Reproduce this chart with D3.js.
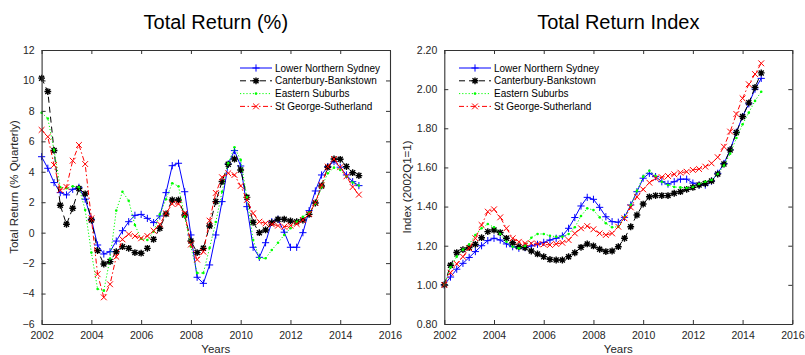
<!DOCTYPE html>
<html>
<head>
<meta charset="utf-8">
<script src="https://cdn.jsdelivr.net/npm/d3@7/dist/d3.min.js"></script>
<style>
  html, body { margin: 0; padding: 0; background: #fff; }
  svg { display: block; font-family: "Liberation Sans", Arial, Helvetica, sans-serif; }
</style>
</head>
<body>
<svg id="chart" width="805" height="355"></svg>
<script>
// Quarterly observations, 2002Q1 .. 2014Q4
const quarters = d3.range(52).map(i => 2002 + i * 0.25);

const regions = ["Lower Northern Sydney", "Canterbury-Bankstown", "Eastern Suburbs", "St George-Sutherland"];

// Quarterly total return (%)
const returnLNS = [4.99, 4.23, 3.29, 2.63, 2.48, 2.85, 2.98, 2.2, 0.88, -0.81,
  -1.40, -1.25, -0.55, 0.13, 0.72, 1.14, 1.20, 0.94, 0.66, 1.10,
  2.63, 4.40, 4.56, 2.69, -0.15, -2.93, -3.33, -2.12, -0.15, 2.04,
  4.51, 5.39, 4.38, 1.71, -0.96, -1.62, -0.66, 0.72, 0.88, 0.03,
  -0.96, -0.96, 0.00, 1.45, 2.74, 3.79, 4.34, 4.67, 4.30, 3.79, 3.35, 3.09];
const returnCB = [10.15, 9.27, 5.40, 1.80, 0.55, 1.60, 2.90, 2.55, 0.83, -1.18,
  -2.06, -1.90, -1.25, -0.92, -1.03, -1.31, -1.35, -1.03, -0.44, 0.29,
  1.23, 2.15, 2.15, 1.16, -0.55, -1.31, -1.03, 0.44, 2.04, 3.35,
  4.49, 4.84, 4.12, 2.32, 0.68, 0.00, 0.18, 0.66, 0.88, 0.88,
  0.77, 0.72, 0.83, 1.20, 1.95, 3.07, 4.30, 4.84, 4.82, 4.34, 3.94, 3.75];
const returnES = [7.88, 7.50, 5.43, 2.98, 2.92, 3.05, 2.98, 1.49, -1.31, -3.70,
  -3.81, -1.70, 1.45, 2.69, 2.10, 0.50, -0.40, -0.48, 0.07, 1.20,
  2.20, 3.25, 3.05, 1.05, -0.92, -2.65, -2.65, -1.00, 0.70, 2.69,
  4.56, 5.61, 4.78, 2.32, -0.48, -1.68, -1.68, -1.14, -0.66, -0.15,
  0.29, 0.72, 1.05, 1.30, 1.90, 3.00, 3.90, 4.27, 4.12, 3.70, 3.30, 3.10];
const returnSGS = [6.75, 6.30, 4.45, 2.80, 3.00, 4.73, 5.76, 4.51, 0.94, -2.73,
  -4.25, -3.39, -1.58, -0.44, -0.10, -0.22, -0.37, -0.22, 0.13, 0.55,
  1.27, 1.89, 1.89, 1.27, -0.78, -1.77, -1.25, 0.79, 2.61, 3.64,
  3.90, 3.79, 3.07, 2.15, 1.27, 0.72, 0.61, 0.55, 0.46, 0.39,
  0.46, 0.57, 0.83, 1.23, 1.97, 3.13, 4.34, 4.84, 4.30, 3.70, 3.00, 2.50];

// Total return index (2002Q1 = 1)
const indexLNS = [1.00, 1.04, 1.08, 1.11, 1.14, 1.17, 1.20, 1.226, 1.238, 1.229,
  1.209, 1.195, 1.187, 1.19, 1.199, 1.207, 1.217, 1.229, 1.238, 1.25,
  1.289, 1.344, 1.403, 1.447, 1.437, 1.396, 1.348, 1.323, 1.32, 1.345,
  1.408, 1.476, 1.545, 1.57, 1.553, 1.527, 1.515, 1.527, 1.54, 1.54,
  1.52, 1.51, 1.51, 1.53, 1.57, 1.62, 1.69, 1.78, 1.86, 1.925, 2.00, 2.055];
const indexCB = [1.00, 1.10, 1.165, 1.18, 1.19, 1.207, 1.241, 1.272, 1.28, 1.267,
  1.238, 1.215, 1.195, 1.19, 1.173, 1.158, 1.144, 1.13, 1.127, 1.127,
  1.144, 1.164, 1.192, 1.209, 1.199, 1.182, 1.17, 1.173, 1.195, 1.238,
  1.297, 1.357, 1.413, 1.45, 1.456, 1.456, 1.456, 1.468, 1.476, 1.488,
  1.498, 1.51, 1.518, 1.531, 1.566, 1.617, 1.689, 1.778, 1.86, 1.93, 2.009, 2.083];
const indexES = [1.00, 1.09, 1.144, 1.18, 1.207, 1.255, 1.289, 1.311, 1.294, 1.26,
  1.22, 1.195, 1.187, 1.199, 1.241, 1.26, 1.26, 1.251, 1.246, 1.246,
  1.26, 1.294, 1.352, 1.391, 1.382, 1.345, 1.315, 1.294, 1.297, 1.345,
  1.408, 1.48, 1.553, 1.583, 1.556, 1.527, 1.51, 1.50, 1.498, 1.495,
  1.50, 1.515, 1.527, 1.536, 1.566, 1.61, 1.67, 1.75, 1.82, 1.88, 1.94, 1.987];
const indexSGS = [1.00, 1.062, 1.107, 1.144, 1.187, 1.238, 1.306, 1.374, 1.386, 1.345,
  1.289, 1.238, 1.22, 1.212, 1.212, 1.209, 1.207, 1.204, 1.209, 1.215,
  1.229, 1.263, 1.289, 1.30, 1.284, 1.263, 1.255, 1.263, 1.297, 1.34,
  1.396, 1.45, 1.488, 1.522, 1.545, 1.55, 1.556, 1.565, 1.573, 1.578,
  1.587, 1.592, 1.604, 1.621, 1.652, 1.706, 1.783, 1.873, 1.953, 2.025, 2.077, 2.132];

const yearTicks = [2002, 2004, 2006, 2008, 2010, 2012, 2014, 2016];
const returnTicks = [-6, -4, -2, 0, 2, 4, 6, 8, 10, 12];
const indexTicks = [0.8, 1.0, 1.2, 1.4, 1.6, 1.8, 2.0, 2.2];

// Line / marker styling per region
const styles = [
  { color: "#0000ff", dash: null,            marker: "plus" },
  { color: "#000000", dash: "6,4",           marker: "star" },
  { color: "#00ff00", dash: "1.2,2",         marker: "dot"  },
  { color: "#ff0000", dash: "5,2.5,1.5,2.5", marker: "cross" }
];

const svg = d3.select("#chart");
svg.append("rect").attr("width", 805).attr("height", 355).attr("fill", "#fff");

const axisColor = "#333";
const textColor = "#262626";

function drawMarker(g, type, x, y, color) {
  if (type === "plus") {
    const s = 3.6;
    g.append("path").attr("d", `M${x - s},${y}H${x + s}M${x},${y - s}V${y + s}`)
      .attr("stroke", color).attr("stroke-width", 1).attr("fill", "none");
  } else if (type === "star") {
    const s = 3.4, d = 2.5;
    g.append("path")
      .attr("d", `M${x - s},${y}H${x + s}M${x},${y - s}V${y + s}M${x - d},${y - d}L${x + d},${y + d}M${x - d},${y + d}L${x + d},${y - d}`)
      .attr("stroke", color).attr("stroke-width", 1.4).attr("fill", "none");
  } else if (type === "dot") {
    g.append("circle").attr("cx", x).attr("cy", y).attr("r", 1.3).attr("fill", color);
  } else if (type === "cross") {
    const s = 2.9;
    g.append("path").attr("d", `M${x - s},${y - s}L${x + s},${y + s}M${x - s},${y + s}L${x + s},${y - s}`)
      .attr("stroke", color).attr("stroke-width", 1).attr("fill", "none");
  }
}

function panel(opts) {
  const { left, right, top, bottom, yDomain, yTicks, yFormat, series, title, yLabel, yLabelX, legendX } = opts;
  const x = d3.scaleLinear().domain([2002, 2016]).range([left, right]);
  const y = d3.scaleLinear().domain(yDomain).range([bottom, top]);
  const g = svg.append("g");

  // series lines + markers
  series.forEach((vals, k) => {
    const st = styles[k];
    const line = d3.line().x((d, i) => x(quarters[i])).y(d => y(d));
    g.append("path").datum(vals).attr("d", line)
      .attr("fill", "none").attr("stroke", st.color).attr("stroke-width", 1)
      .attr("stroke-dasharray", st.dash);
    const mg = g.append("g");
    vals.forEach((v, i) => drawMarker(mg, st.marker, x(quarters[i]), y(v), st.color));
  });

  // axes (box with inward ticks)
  const fmtYear = d3.format("d");
  const bx = g.append("g").attr("transform", `translate(0,${bottom})`)
    .call(d3.axisBottom(x).tickValues(yearTicks).tickFormat(fmtYear).tickSizeInner(-4).tickSizeOuter(0).tickPadding(8));
  const tx = g.append("g").attr("transform", `translate(0,${top})`)
    .call(d3.axisTop(x).tickValues(yearTicks).tickFormat("").tickSizeInner(-4).tickSizeOuter(0));
  const ly = g.append("g").attr("transform", `translate(${left},0)`)
    .call(d3.axisLeft(y).tickValues(yTicks).tickFormat(yFormat).tickSizeInner(-4).tickSizeOuter(0).tickPadding(7));
  const ry = g.append("g").attr("transform", `translate(${right},0)`)
    .call(d3.axisRight(y).tickValues(yTicks).tickFormat("").tickSizeInner(-4).tickSizeOuter(0));
  [bx, tx, ly, ry].forEach(a => {
    a.selectAll("path.domain").attr("stroke", axisColor).attr("stroke-width", 1.1);
    a.selectAll(".tick line").attr("stroke", axisColor).attr("stroke-width", 1);
    a.selectAll("text").attr("fill", textColor).style("font-size", "10.5px")
      .style("font-family", "'Liberation Sans', Arial, sans-serif");
  });

  // title and axis labels
  const cx = (left + right) / 2;
  svg.append("text").attr("x", cx).attr("y", 29).attr("text-anchor", "middle")
    .attr("fill", "#000").style("font-size", "20px").text(title);
  svg.append("text").attr("x", cx).attr("y", 353).attr("text-anchor", "middle")
    .attr("fill", textColor).style("font-size", "11.5px").text("Years");
  svg.append("text").attr("transform", `translate(${yLabelX},${(top + bottom) / 2}) rotate(-90)`)
    .attr("text-anchor", "middle").attr("fill", textColor).style("font-size", "11.5px").text(yLabel);

  // legend
  const lg = svg.append("g");
  regions.forEach((name, k) => {
    const st = styles[k];
    const ry0 = 68 + k * 12.8;
    lg.append("line").attr("x1", legendX).attr("x2", legendX + 32).attr("y1", ry0).attr("y2", ry0)
      .attr("stroke", st.color).attr("stroke-width", 1).attr("stroke-dasharray", st.dash);
    drawMarker(lg, st.marker, legendX + 16, ry0, st.color);
    lg.append("text").attr("x", legendX + 35).attr("y", ry0 + 3.6)
      .attr("fill", "#000").style("font-size", "10px").text(name);
  });
}

panel({
  left: 41.6, right: 390, top: 50, bottom: 324,
  yDomain: [-6, 12], yTicks: returnTicks, yFormat: d3.format("d"),
  series: [returnLNS, returnCB, returnES, returnSGS],
  title: "Total Return (%)", yLabel: "Total Return (% Quarterly)", yLabelX: 18, legendX: 240
});

panel({
  left: 444.3, right: 792.3, top: 50, bottom: 324,
  yDomain: [0.8, 2.2], yTicks: indexTicks, yFormat: d3.format(".2f"),
  series: [indexLNS, indexCB, indexES, indexSGS],
  title: "Total Return Index", yLabel: "Index (2002Q1=1)", yLabelX: 411, legendX: 459
});
</script>
</body>
</html>
